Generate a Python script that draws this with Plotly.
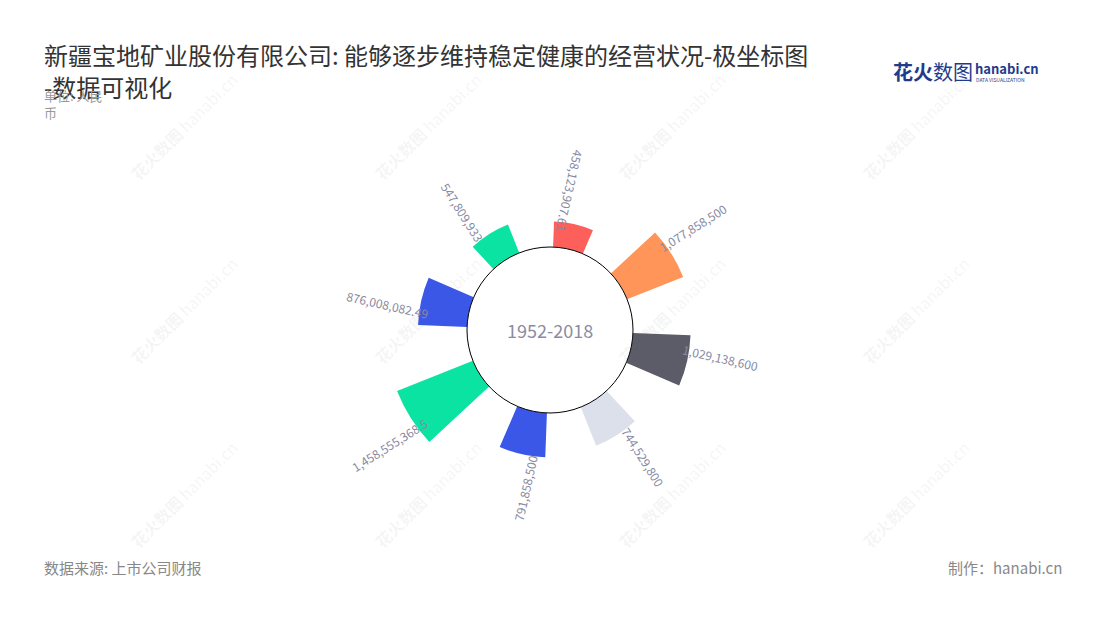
import math
import plotly.graph_objects as go

# ---------------- data ----------------
categories = ["项目1", "项目2", "项目3", "项目4", "项目5", "项目6", "项目7", "项目8"]
values = [458123907.61, 1077858500, 1029138600, 744529800,
          791858500, 1458555368.5, 876008082.49, 547809933]
bar_colors = ["#fd5f5a", "#ff9559", "#5b5c67", "#dbe0ea",
              "#3a57e8", "#0ae3a2", "#3a57e8", "#0ae3a2"]
center_text = "1952-2018"
title_line1 = "新疆宝地矿业股份有限公司: 能够逐步维持稳定健康的经营状况-极坐标图"
title_line2 = "-数据可视化"
unit_text = "单位: 人民<br>币"
source_text = "数据来源: 上市公司财报"
maker_text = "制作：hanabi.cn"


def fmt(v):
    return f"{int(v):,}" if float(v).is_integer() else f"{v:,}"


value_labels = [fmt(v) for v in values]

# ---------------- layout constants ----------------
OFF = 8                    # page body margin in the browser
W, H = 1100 - OFF, 620 - OFF
CX, CY = 550, 330          # polar centre in page px
R_PX = 200                 # outer radius of polar area (px)
HOLE_PX = 83               # hole radius (px)
RMAX = 2.09e9              # radial axis max
ROTATION = 77.3            # angular axis rotation
N = len(categories)
FONT = "Noto Sans CJK SC"
LABEL_COLOR = "#878aa2"


def px(xp):
    return (xp - OFF) / W


def py(yp):
    return 1 - (yp - OFF) / H


fig = go.Figure()
fig.add_trace(go.Barpolar(
    r=values,
    theta=categories,
    width=0.47,
    marker=dict(color=bar_colors, line=dict(width=0)),
    hoverinfo="r+theta",
    showlegend=False,
))

annotations = []

# watermarks (first so they sit beneath other texts)
for wx in [184, 428, 672, 916]:
    for wy in [126, 310, 494]:
        annotations.append(dict(
            x=px(wx), y=py(wy), xref="paper", yref="paper",
            xanchor="center", yanchor="middle",
            text="<b>花火数图</b> hanabi.cn", showarrow=False, textangle=-45,
            font=dict(family=FONT, size=16, color="rgba(110,110,120,0.08)"),
        ))

# value labels, rotated along the radius
for k, (v, lab) in enumerate(zip(values, value_labels)):
    th = (90 - ROTATION) + k * 360.0 / N
    t = math.radians(th)
    r_px = HOLE_PX + v / RMAX * (R_PX - HOLE_PX) + 32
    # small counter-clockwise shift perpendicular to radius
    shift = 11
    xx = CX + r_px * math.sin(t) - shift * math.cos(t)
    yy = CY - r_px * math.cos(t) - shift * math.sin(t)
    a = ((th - 90) + 180) % 360 - 180
    if a <= -60 or a > 100:
        a = ((a + 180) + 180) % 360 - 180
    annotations.append(dict(
        x=px(xx), y=py(yy), xref="paper", yref="paper", text=lab, showarrow=False,
        textangle=a, xanchor="center", yanchor="middle",
        font=dict(family=FONT, size=12, color=LABEL_COLOR),
    ))

# centre text
annotations.append(dict(
    x=px(CX), y=py(CY), xref="paper", yref="paper", text=center_text,
    showarrow=False, xanchor="center", yanchor="middle",
    font=dict(family=FONT, size=18, color="#8b8ca3"),
))

# title / subtitle / footer / logo
annotations += [
    dict(x=px(42), y=py(55), xref="paper", yref="paper", text=title_line1,
         showarrow=False, xanchor="left", yanchor="middle",
         font=dict(family=FONT, size=24, color="#333333")),
    dict(x=px(42), y=py(87), xref="paper", yref="paper", text=title_line2,
         showarrow=False, xanchor="left", yanchor="middle",
         font=dict(family=FONT, size=24, color="#333333")),
    dict(x=px(42), y=py(104), xref="paper", yref="paper", text=unit_text,
         showarrow=False, xanchor="left", yanchor="middle", align="left",
         font=dict(family=FONT, size=13, color="#999999")),
    dict(x=px(42), y=py(567), xref="paper", yref="paper", text=source_text,
         showarrow=False, xanchor="left", yanchor="middle",
         font=dict(family=FONT, size=15, color="#888888")),
    dict(x=px(1064), y=py(567), xref="paper", yref="paper", text=maker_text,
         showarrow=False, xanchor="right", yanchor="middle",
         font=dict(family=FONT, size=15, color="#888888")),
    dict(x=px(891), y=py(72), xref="paper", yref="paper",
         text="<b>花火</b>数图", showarrow=False, xanchor="left", yanchor="middle",
         font=dict(family=FONT, size=20, color="#1f3c8c")),
    dict(x=px(973), y=py(69), xref="paper", yref="paper",
         text="<b>hanabi.cn</b>", showarrow=False, xanchor="left", yanchor="middle",
         font=dict(family=FONT, size=13, color="#1f3c8c")),
    dict(x=px(974), y=py(79), xref="paper", yref="paper",
         text="DATA VISUALIZATION", showarrow=False, xanchor="left", yanchor="middle",
         font=dict(family=FONT, size=5, color="#1f3c8c")),
]

fig.update_layout(
    width=W, height=H,
    margin=dict(l=0, r=0, t=0, b=0),
    paper_bgcolor="#ffffff",
    plot_bgcolor="#ffffff",
    font=dict(family=FONT),
    polar=dict(
        domain=dict(x=[px(CX - R_PX), px(CX + R_PX)],
                    y=[py(CY + R_PX), py(CY - R_PX)]),
        hole=HOLE_PX / R_PX,
        bgcolor="rgba(0,0,0,0)",
        radialaxis=dict(range=[0, RMAX], visible=False),
        angularaxis=dict(visible=False, rotation=ROTATION, direction="clockwise",
                         type="category", categoryarray=categories),
    ),
    shapes=[dict(
        type="circle", xref="paper", yref="paper",
        x0=px(CX - HOLE_PX), x1=px(CX + HOLE_PX),
        y0=py(CY + HOLE_PX), y1=py(CY - HOLE_PX),
        line=dict(color="#000000", width=1), fillcolor="rgba(0,0,0,0)",
        layer="above",
    )],
    annotations=annotations,
)

fig.write_html("out.html")
